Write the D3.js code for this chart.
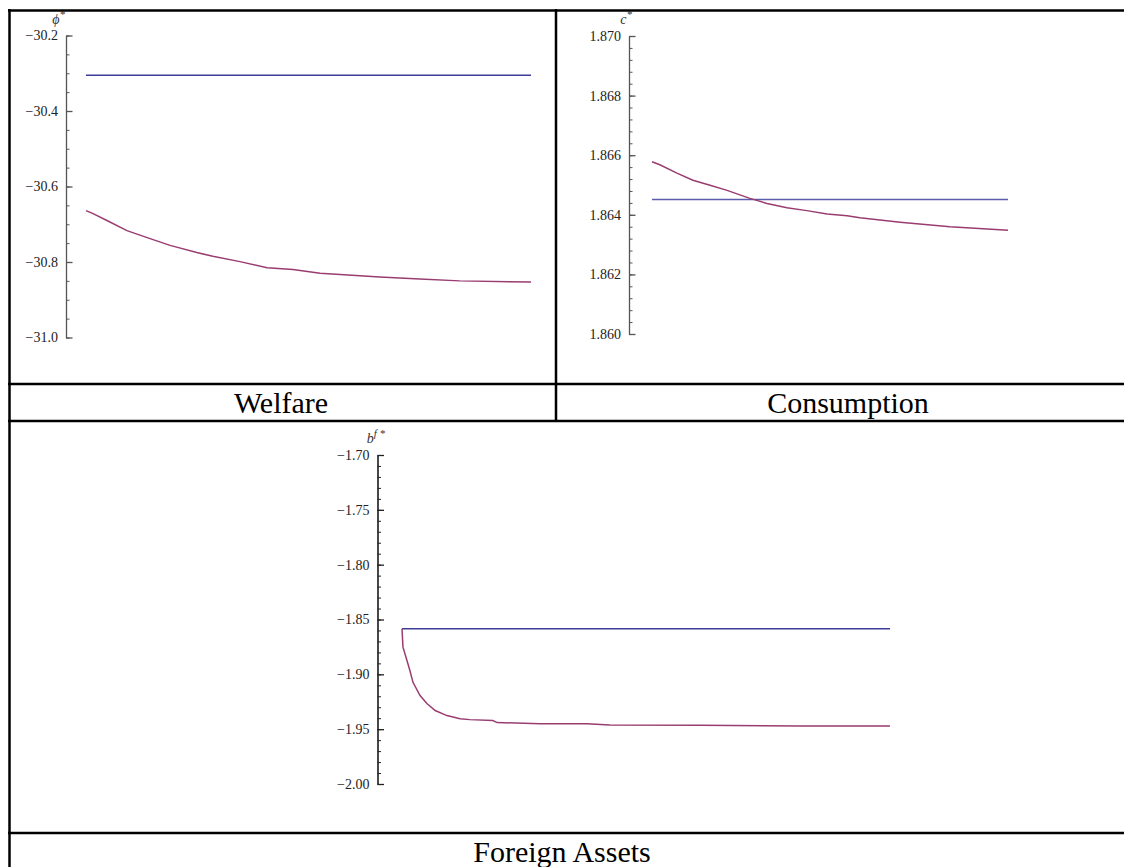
<!DOCTYPE html>
<html>
<head>
<meta charset="utf-8">
<script src="https://cdn.jsdelivr.net/npm/d3@7"></script>
<style>
  body { margin: 0; background: #fff; }
  svg { display: block; }
  .tick text { font-family: "Liberation Serif", "Times New Roman", serif; }
</style>
</head>
<body>
<svg id="chart" width="1124" height="867"></svg>
<script>
// ---------------- data ----------------
const panelTitles = ["Welfare", "Consumption", "Foreign Assets"];

const welfareT   = [0, 1.6, 4.7, 9.2, 14.4, 18.9, 24.9, 28.5, 34.6, 40.7, 46.5, 52.6, 57.1, 66, 75, 84, 100];
const welfareRed = [-30.664, -30.672, -30.690, -30.717, -30.738, -30.756, -30.775, -30.785, -30.799, -30.815, -30.820, -30.830, -30.833, -30.840, -30.845, -30.850, -30.853];
const welfareBlueT = [0, 100];
const welfareBlue  = [-30.305, -30.305];
const welfareTicks = [-31.0, -30.8, -30.6, -30.4, -30.2];

const consT   = [0, 2.2, 7.0, 11.5, 16.3, 21.1, 27.5, 32.3, 37.9, 43.5, 49.2, 54.8, 58.4, 69.7, 83.7, 100];
const consRed = [1.86578, 1.86568, 1.86540, 1.86516, 1.86499, 1.86482, 1.86455, 1.86438, 1.86424, 1.86414, 1.86403, 1.86397, 1.86390, 1.86375, 1.86360, 1.86348];
const consBlueT = [0, 100];
const consBlue  = [1.86451, 1.86451];
const consTicks = [1.860, 1.862, 1.864, 1.866, 1.868, 1.870];

const foreignT   = [0, 0.2, 1.0, 1.6, 2.25, 3.7, 5.1, 6.8, 9.2, 11.9, 13.9, 18.6, 19.5, 28.3, 37.9, 42.6, 61, 81.6, 100];
const foreignRed = [-1.8585, -1.8752, -1.8872, -1.8963, -1.9073, -1.9193, -1.9266, -1.9330, -1.9376, -1.9404, -1.9413, -1.9422, -1.9440, -1.9450, -1.9450, -1.9462, -1.9465, -1.9470, -1.9472];
const foreignBlueT = [0, 100];
const foreignBlue  = [-1.8585, -1.8585];
const foreignTicks = [-2.00, -1.95, -1.90, -1.85, -1.80, -1.75, -1.70];

// ---------------- drawing ----------------
const svg = d3.select("#chart");
svg.append("rect").attr("width", 1124).attr("height", 867).attr("fill", "#fff");

const RED  = "#993d71";
const SERIF = "'Liberation Serif', 'Times New Roman', serif";

function panel(cfg) {
  const y = d3.scaleLinear().domain(cfg.domain).range(cfg.yRange);
  const x = d3.scaleLinear().domain([0, 100]).range(cfg.xRange);
  const g = svg.append("g");

  // minor ticks
  const minors = d3.range(Math.round((cfg.domain[1] - cfg.domain[0]) / cfg.minorStep) + 1)
    .map(i => cfg.domain[0] + i * cfg.minorStep);
  g.append("g")
    .attr("transform", `translate(${cfg.axisX},0)`)
    .call(d3.axisLeft(y).tickValues(minors).tickSize(-3.5).tickSizeOuter(0).tickFormat(""))
    .call(s => s.selectAll("line,path").attr("stroke", cfg.axisColor).attr("stroke-width", 1));

  // major ticks + labels
  g.append("g")
    .attr("transform", `translate(${cfg.axisX},0)`)
    .call(d3.axisLeft(y).tickValues(cfg.ticks).tickSize(-6.5).tickSizeOuter(0).tickPadding(8)
      .tickFormat(d3.format(cfg.fmt)))
    .call(s => s.selectAll("line,path").attr("stroke", cfg.axisColor).attr("stroke-width", 1.3))
    .call(s => s.selectAll("text").attr("fill", "#222").attr("font-size", 14));

  const line = d3.line().x(d => x(d[0])).y(d => y(d[1]));
  g.append("path")
    .datum(cfg.blueT.map((t, i) => [t, cfg.blue[i]]))
    .attr("d", line).attr("fill", "none").attr("stroke", cfg.blueColor).attr("stroke-width", 1.5);
  g.append("path")
    .datum(cfg.redT.map((t, i) => [t, cfg.red[i]]))
    .attr("d", line).attr("fill", "none").attr("stroke", RED).attr("stroke-width", 1.5);

  // axis label
  const lab = g.append("text")
    .attr("x", cfg.labelX).attr("y", cfg.labelY)
    .attr("font-family", SERIF)
    .attr("font-size", 14).attr("font-style", "italic").attr("fill", "#333")
    .attr("text-anchor", "end");
  lab.append("tspan").text(cfg.labelBase);
  lab.append("tspan").attr("dy", -6).attr("font-size", 11).text(cfg.labelSup);
}

panel({
  domain: [-31.0, -30.2], yRange: [337.5, 35.5], xRange: [86, 531], axisX: 66,
  ticks: welfareTicks, minorStep: 0.05, fmt: ".1f", axisColor: "#555", blueColor: "#3d3d99",
  redT: welfareT, red: welfareRed, blueT: welfareBlueT, blue: welfareBlue,
  labelBase: "ϕ", labelSup: "*", labelX: 65, labelY: 24
});

panel({
  domain: [1.860, 1.870], yRange: [334, 36], xRange: [652, 1008], axisX: 629,
  ticks: consTicks, minorStep: 0.0004, fmt: ".3f", axisColor: "#555", blueColor: "#5c5cad",
  redT: consT, red: consRed, blueT: consBlueT, blue: consBlue,
  labelBase: "c", labelSup: "*", labelX: 632, labelY: 24
});

panel({
  domain: [-2.00, -1.70], yRange: [784, 455], xRange: [402, 890], axisX: 377.5,
  ticks: foreignTicks, minorStep: 0.01, fmt: ".2f", axisColor: "#222", blueColor: "#3d3d99",
  redT: foreignT, red: foreignRed, blueT: foreignBlueT, blue: foreignBlue,
  labelBase: "b", labelSup: "f *", labelX: 385, labelY: 443
});

// ---------------- table grid ----------------
const grid = svg.append("g").attr("stroke", "#000").attr("stroke-width", 2.5);
grid.append("line").attr("x1", 8).attr("x2", 1124).attr("y1", 10.5).attr("y2", 10.5);
grid.append("line").attr("x1", 9.5).attr("x2", 9.5).attr("y1", 9).attr("y2", 867);
grid.append("line").attr("x1", 556).attr("x2", 556).attr("y1", 9).attr("y2", 421);
[384, 421, 833].forEach(yy =>
  grid.append("line").attr("x1", 8).attr("x2", 1124).attr("y1", yy).attr("y2", yy));

// ---------------- titles ----------------
const titlePos = [[281, 413], [848, 413], [562, 862]];
panelTitles.forEach((t, i) => {
  svg.append("text")
    .attr("x", titlePos[i][0]).attr("y", titlePos[i][1])
    .attr("text-anchor", "middle")
    .attr("font-family", SERIF)
    .attr("font-size", 30).attr("fill", "#000")
    .text(t);
});
</script>
</body>
</html>
